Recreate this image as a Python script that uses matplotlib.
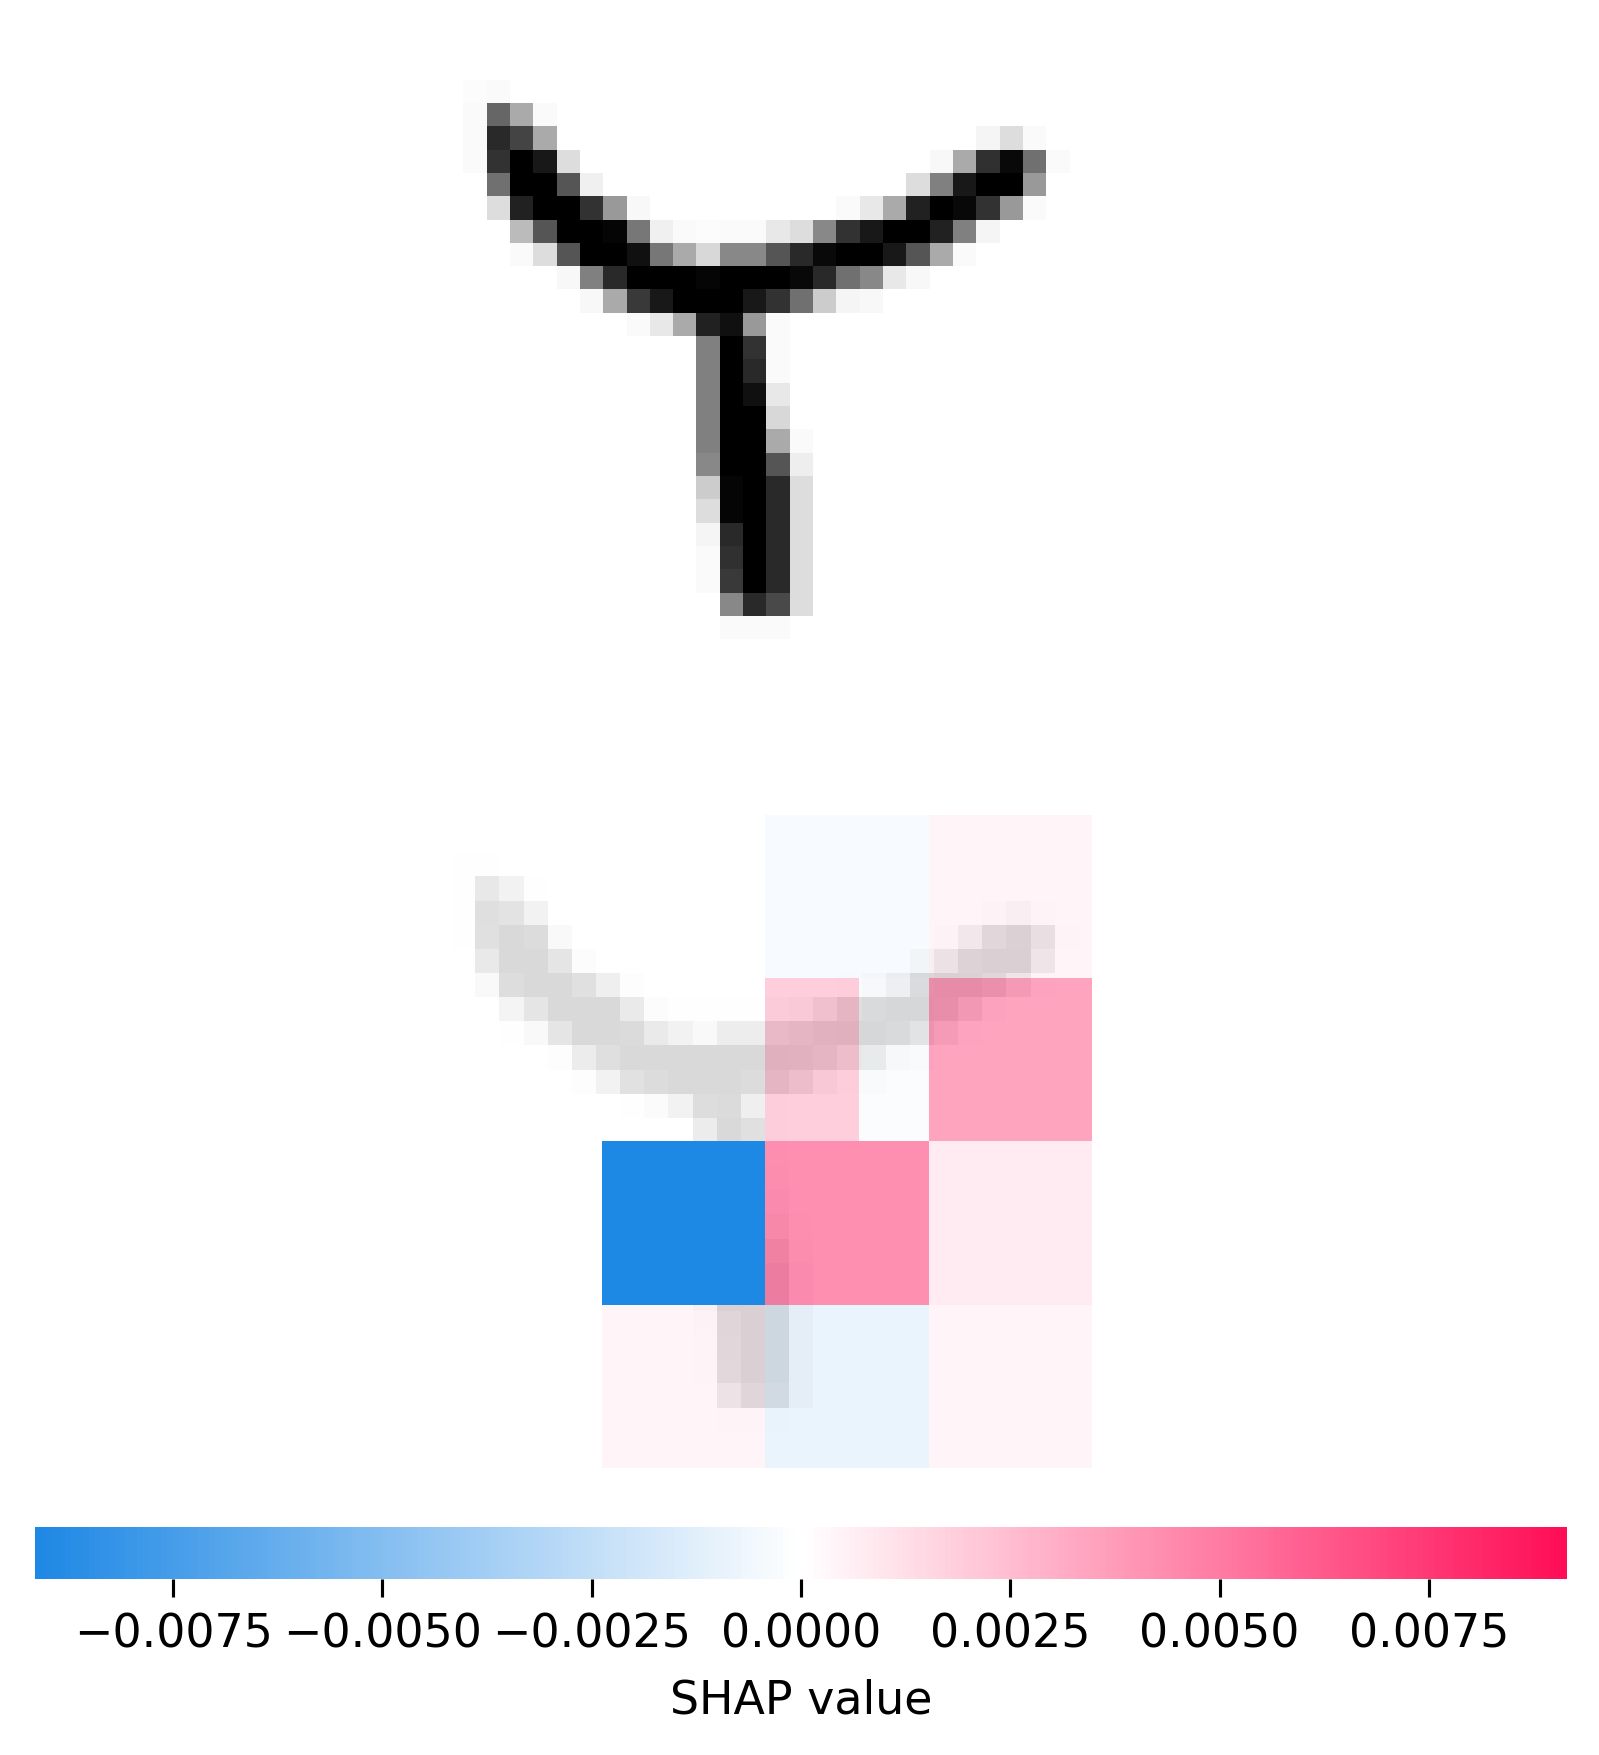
import numpy as np
import matplotlib
matplotlib.use("Agg")
from matplotlib import pyplot as plt
from matplotlib.colors import LinearSegmentedColormap

# digit ink (0 = white, 255 = black), segments of (row, first column, values)
digit_segments = [
    (2, 1, [3, 5]),
    (3, 1, [5, 153, 85, 5]),
    (4, 1, [5, 213, 187, 85]),
    (4, 23, [10, 34, 5]),
    (5, 1, [5, 204, 255, 231, 34]),
    (5, 21, [7, 85, 207, 245, 143, 5]),
    (6, 2, [143, 255, 255, 170, 15]),
    (6, 20, [34, 127, 231, 255, 255, 102]),
    (7, 2, [34, 221, 255, 255, 204, 102, 7]),
    (7, 17, [5, 23, 85, 221, 255, 247, 204, 102, 5]),
    (8, 3, [68, 170, 255, 255, 250, 136, 15, 5, 3, 5, 5, 23, 34, 119, 204, 231, 255, 255, 221, 127, 10]),
    (9, 3, [5, 34, 170, 255, 255, 239, 136, 85, 39, 119, 119, 170, 213, 245, 255, 255, 231, 170, 85, 5]),
    (10, 5, [7, 127, 213, 255, 255, 255, 250, 255, 255, 255, 247, 213, 143, 119, 23, 7]),
    (11, 6, [7, 85, 197, 231, 255, 255, 255, 231, 204, 143, 51, 10, 7]),
    (12, 8, [5, 23, 85, 221, 239, 102, 5]),
    (13, 11, [127, 255, 204, 5]),
    (14, 11, [127, 255, 213, 5]),
    (15, 11, [127, 255, 238, 23]),
    (16, 11, [127, 255, 255, 39]),
    (17, 11, [127, 255, 255, 85, 5]),
    (18, 11, [119, 255, 255, 170, 17]),
    (19, 11, [51, 250, 255, 213, 34]),
    (20, 11, [34, 250, 255, 213, 34]),
    (21, 11, [10, 213, 255, 213, 34]),
    (22, 11, [5, 207, 255, 213, 34]),
    (23, 11, [5, 197, 255, 213, 34]),
    (24, 12, [119, 213, 181, 34]),
    (25, 12, [5, 5, 5]),
]

# SHAP value of each partition block (rows r0:r1, columns c0:c1)
block_r0 = [0, 0, 7, 7, 7, 14, 14, 14, 21, 21, 21]
block_r1 = [7, 7, 14, 14, 14, 21, 21, 21, 28, 28, 28]
block_c0 = [14, 21, 14, 18, 21, 7, 14, 21, 7, 14, 21]
block_c1 = [21, 28, 18, 21, 28, 14, 21, 28, 14, 21, 28]
block_val = [-0.00041, 0.0005, 0.0019, -0.00028, 0.0035, -0.00915,
             0.00425, 0.0008, 0.00045, -0.0009, 0.00045]

cbar_ticks = [-0.0075, -0.005, -0.0025, 0.0, 0.0025, 0.005, 0.0075]

digit = np.zeros((28, 28))
for r, c, vals in digit_segments:
    digit[r, c:c + len(vals)] = vals
digit = digit / 255.0

sv = np.zeros((28, 28))
for r0, r1, c0, c1, v in zip(block_r0, block_r1, block_c0, block_c1, block_val):
    sv[r0:r1, c0:c1] = v
max_val = np.abs(sv).max()

# red / transparent / blue map
cols = []
for a in np.linspace(1, 0, 100):
    cols.append((30 / 255, 136 / 255, 229 / 255, a))
for a in np.linspace(0, 1, 100):
    cols.append((255 / 255, 13 / 255, 87 / 255, a))
red_transparent_blue = LinearSegmentedColormap.from_list("red_transparent_blue", cols)

plt.rcParams['font.family'] = ['DejaVu Sans']
plt.rcParams['font.size'] = 11

W, H = 1599, 1755
fig = plt.figure(figsize=(W / 300, H / 300), dpi=300)

ax1 = fig.add_axes([440.3 / W, 1 - 686 / H, 652.4 / W, 652.4 / H])
ax1.imshow(digit, cmap="gray_r", vmin=0, vmax=1, interpolation="nearest", aspect="auto")
ax1.set_xlim(-0.5, 27.5)
ax1.set_ylim(27.5, -0.5)
ax1.axis("off")

ax2 = fig.add_axes([427.2 / W, 1 - 1480 / H, 675.6 / W, 675.6 / H])
ax2.imshow(digit, cmap="gray_r", vmin=0, vmax=1, alpha=0.15, interpolation="nearest",
           extent=(-1, 28, 28, -1), aspect="auto")
im = ax2.imshow(sv, cmap=red_transparent_blue, vmin=-max_val, vmax=max_val,
                interpolation="nearest", aspect="auto")
ax2.set_xlim(-1, 28)
ax2.set_ylim(28, -1)
ax2.axis("off")

cax = fig.add_axes([35 / W, 1 - 1579 / H, 1532 / W, 52 / H])
cb = fig.colorbar(im, cax=cax, orientation="horizontal")
cb.outline.set_visible(False)
cb.set_ticks(cbar_ticks)
cb.set_label("SHAP value", labelpad=5)
cax.tick_params(length=4.3, width=0.75, pad=3.8)

fig.savefig("out.png", dpi=300)
